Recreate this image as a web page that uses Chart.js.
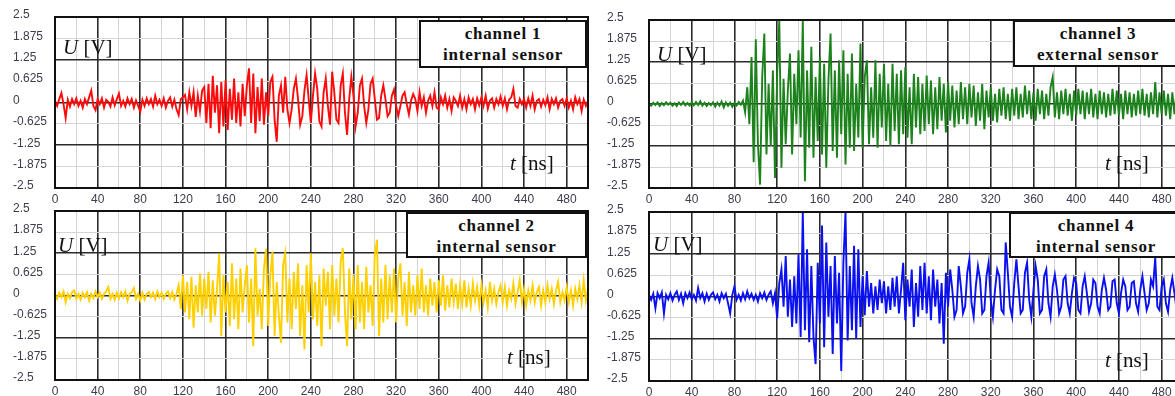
<!DOCTYPE html>
<html>
<head>
<meta charset="utf-8">
<title>Sensor channels</title>
<script src="https://cdn.jsdelivr.net/npm/chart.js@4/dist/chart.umd.min.js"></script>
<style>
  html, body { margin: 0; padding: 0; background: #fff; width: 1175px; height: 396px; overflow: hidden; }
  canvas { position: absolute; }
  .unit {
    position: absolute; white-space: nowrap; color: #111;
    font-family: "Liberation Serif", "Times New Roman", serif;
    font-size: 21px; line-height: 22px; z-index: 2;
  }
  .tag {
    position: absolute; box-sizing: border-box; z-index: 2;
    border: 2px solid #111; background: #fff; color: #111;
    font: bold 17px "Liberation Serif", "Times New Roman", serif;
    letter-spacing: 0.8px; line-height: 21px; padding-top: 1px; text-align: center;
  }
</style>
</head>
<body>

<canvas id="ch1" width="592" height="206" style="left:0;top:0"></canvas>
<canvas id="ch3" width="593" height="206" style="left:594px;top:0"></canvas>
<canvas id="ch2" width="592" height="204" style="left:0;top:194px"></canvas>
<canvas id="ch4" width="593" height="204" style="left:594px;top:195px"></canvas>

<div class="unit" style="left:63px;top:36px"><i>U</i> [V]</div>
<div class="unit" style="left:58px;top:234px"><i>U</i> [V]</div>
<div class="unit" style="left:657px;top:43px"><i>U</i> [V]</div>
<div class="unit" style="left:653px;top:233px"><i>U</i> [V]</div>

<div class="unit" style="left:510px;top:152px"><i>t</i> [ns]</div>
<div class="unit" style="left:507px;top:346px"><i>t</i> [ns]</div>
<div class="unit" style="left:1105px;top:152px"><i>t</i> [ns]</div>
<div class="unit" style="left:1105px;top:349px"><i>t</i> [ns]</div>

<div class="tag" style="left:419px;top:20px;width:168px;height:48px">channel 1<br>internal sensor</div>
<div class="tag" style="left:406px;top:212px;width:181px;height:46px">channel 2<br>internal sensor</div>
<div class="tag" style="left:1013px;top:20px;width:170px;height:47px">channel 3<br>external sensor</div>
<div class="tag" style="left:1009px;top:212px;width:174px;height:46px">channel 4<br>internal sensor</div>

<script>
// one sample every 2 ns, 0..500 ns
const SAMPLE_NS = 2;

const timeTickLabels = [0, 40, 80, 120, 160, 200, 240, 280, 320, 360, 400, 440, 480];
const voltTicks = [2.5, 1.875, 1.25, 0.625, 0, -0.625, -1.25, -1.875, -2.5];
const voltTickLabels = ['2.5', '1.875', '1.25', '0.625', '0', '-0.625', '-1.25', '-1.875', '-2.5'];

// channel 1, internal sensor [V]
const ch1Volts = [
  0.05,-0.1,0.1,0.28,-0.05,-0.45,0.08,-0.12,0.1,-0.05,
  0.12,-0.1,0.05,-0.15,0.1,-0.05,0.15,0.35,-0.1,-0.22,
  0.1,-0.05,0.12,-0.15,0.08,0.02,-0.12,0.15,-0.08,0.1,
  0.26,-0.1,0.05,-0.12,0.12,-0.05,0.1,-0.15,0.06,-0.1,
  -0.27,0.08,-0.1,0.12,-0.05,0.1,-0.12,0.2,-0.05,0.08,
  -0.1,0.12,-0.15,0.05,0.15,-0.12,0.08,-0.2,-0.37,0.1,
  0.15,0.22,-0.2,0.3,-0.1,0.3,-0.42,0.2,-0.25,0.35,
  0.45,-0.6,0.55,-0.75,0.78,-0.3,0.5,-0.9,0.6,-0.7,
  0.65,-0.8,0.4,-0.5,0.7,-0.6,0.3,-0.7,0.55,-0.4,
  0.5,1.0,-0.6,0.85,-0.9,0.45,-0.55,0.7,-0.65,0.3,
  -0.4,0.6,0.75,-0.5,-1.15,0.2,0.5,-0.3,0.75,-0.2,
  -0.6,-0.2,0.4,0.7,0.1,-0.65,-0.4,0.35,0.8,0.1,
  -0.6,0.2,0.85,0.4,-0.55,-0.7,0.3,0.7,-0.1,-0.65,
  0.9,0.3,-0.5,-0.6,0.5,0.85,-0.3,-0.95,0.1,0.75,
  0.2,-0.7,-0.3,0.5,0.7,-0.1,-0.6,-0.2,0.55,0.7,
  0.1,-0.5,-0.45,0.2,0.5,0.1,-0.4,-0.3,0.2,0.38,
  -0.1,-0.4,-0.1,0.2,0.3,-0.05,-0.35,0.05,0.25,0.1,
  -0.25,0.3,-0.1,0.15,-0.3,0.05,0.2,-0.1,0.3,-0.15,
  -0.2,0.15,-0.05,0.2,-0.15,0.1,-0.25,0.15,0.05,-0.1,
  0.2,-0.15,0.1,-0.2,0.15,-0.05,0.1,-0.2,0.12,-0.08,
  0.15,-0.1,0.2,-0.18,0.05,0.12,-0.15,0.1,-0.05,0.18,
  -0.1,0.12,-0.2,0.08,0.15,0.4,-0.1,-0.15,0.1,-0.05,
  0.1,-0.15,0.12,-0.1,0.2,-0.2,0.05,0.1,-0.12,0.08,
  -0.08,0.15,-0.2,0.1,-0.05,0.12,-0.15,0.05,0.1,-0.1,
  0.12,-0.15,0.05,-0.2,0.15,-0.05,0.1,-0.25,0.08,-0.1,
  0.05
];

// channel 2, internal sensor [V]
const ch2Volts = [
  0.05,-0.1,0.08,-0.05,0.12,-0.2,0.05,-0.08,0.1,0.15,
  -0.1,0.05,-0.12,0.08,-0.05,0.1,-0.15,0.05,-0.08,0.12,
  -0.05,0.08,-0.1,0.05,0.12,0.25,-0.1,0.05,-0.12,0.08,
  -0.08,0.1,-0.05,0.12,-0.15,0.05,0.1,0.22,-0.1,0.05,
  -0.15,0.08,-0.12,0.05,0.1,-0.05,0.08,-0.1,0.12,-0.05,
  0.08,-0.1,0.05,0.12,-0.08,0.1,-0.12,0.05,0.3,-0.4,
  0.6,-0.5,0.4,-0.7,0.55,-0.95,0.3,-0.5,0.65,-0.6,
  0.5,-0.4,0.7,-0.8,0.45,-0.6,0.2,1.24,-1.2,0.6,
  -0.5,0.4,-0.9,0.95,-0.7,0.5,-1.0,0.8,-0.5,0.3,
  0.9,-0.8,0.5,-1.5,1.4,-0.6,0.2,-1.0,0.8,1.38,
  -0.9,0.6,1.3,-1.2,0.4,-0.6,-1.4,0.9,1.25,-0.8,
  0.5,-1.0,0.7,-0.4,0.95,-1.2,0.3,-1.6,0.9,-0.5,
  1.25,-0.7,0.4,-0.9,0.6,-1.5,0.8,-0.3,0.7,-1.0,
  0.9,-0.6,0.5,-0.8,1.0,1.4,-0.5,-1.5,0.8,-0.7,
  0.6,-1.0,0.9,-0.8,0.4,-1.0,0.85,-0.5,0.3,-0.9,
  1.2,1.65,-1.2,0.5,-0.8,0.9,-0.7,0.6,-0.5,0.8,
  -0.8,0.5,0.95,-0.6,0.4,-0.9,0.7,-0.5,0.3,-0.6,
  0.6,-0.4,0.8,-0.5,0.3,-0.6,0.5,-0.3,0.4,-0.5,
  0.45,-0.3,0.6,-0.45,0.3,-0.35,0.5,-0.2,0.35,-0.4,
  0.3,-0.25,0.45,-0.35,0.2,-0.3,0.35,-0.15,0.25,-0.3,
  0.3,-0.2,0.15,-0.35,0.4,-0.15,0.2,-0.25,0.1,0.3,
  -0.2,0.25,-0.3,0.15,-0.1,0.35,-0.25,0.1,0.45,-0.2,
  0.2,-0.3,0.15,-0.15,0.3,-0.2,0.1,0.25,-0.3,0.15,
  -0.2,0.3,-0.1,0.2,-0.25,0.15,0.4,-0.2,0.1,-0.15,
  0.25,-0.2,0.15,-0.3,0.2,-0.1,0.3,-0.2,0.45,-0.15,
  0.2
];

// channel 3, external sensor [V]
const ch3Volts = [
  0.02,-0.05,0.04,-0.03,0.05,-0.06,0.03,-0.04,0.05,-0.02,
  0.04,-0.05,0.02,-0.06,0.05,-0.03,0.06,-0.04,0.03,-0.05,
  0.05,-0.04,0.06,-0.03,0.08,-0.05,0.04,-0.06,0.03,-0.04,
  0.05,-0.08,0.04,-0.05,0.07,-0.1,0.05,-0.06,0.04,-0.08,
  0.03,-0.05,0.06,-0.02,0.1,-0.25,0.5,-0.6,1.4,-1.73,
  1.93,-1.2,-2.4,0.8,2.1,-1.5,0.6,-1.25,1.0,-2.2,
  0.9,2.5,-1.9,0.75,-1.2,0.4,1.5,-1.5,0.9,-0.6,
  1.6,-1.0,2.5,-2.3,1.0,-1.3,1.7,-1.6,0.8,-1.1,
  1.4,-1.5,1.2,-1.9,0.7,2.1,-1.4,1.0,-1.6,1.3,
  -0.9,1.6,-1.8,0.9,-1.3,1.5,-1.4,0.6,-1.0,1.8,
  -1.3,0.8,1.3,-1.2,0.5,-1.0,1.3,-1.3,0.9,-0.7,
  1.2,-1.1,0.6,-1.25,1.2,-0.8,0.9,-1.2,1.0,-0.9,
  1.1,-1.0,0.5,-1.2,0.9,-0.7,0.8,-0.9,0.6,-0.8,
  0.85,-0.6,0.7,-0.9,0.5,-0.75,0.8,-0.5,0.6,-0.85,
  0.65,-0.5,0.55,-0.7,0.4,-0.6,0.65,-0.45,0.5,-0.6,
  0.6,-0.4,0.55,-0.65,0.35,-0.5,0.6,-0.75,0.4,-0.4,
  0.5,-0.5,0.3,-0.55,0.45,-0.35,0.5,-0.45,0.3,-0.5,
  0.45,-0.35,0.5,-0.45,0.3,-0.4,0.55,-0.3,0.4,-0.45,
  0.35,-0.5,0.45,-0.3,0.4,-0.45,0.3,-0.35,0.5,0.8,
  -0.4,0.35,-0.45,0.4,-0.3,0.45,-0.35,0.3,-0.5,0.4,
  -0.35,0.45,-0.3,0.4,-0.45,0.35,-0.3,0.45,-0.4,0.3,
  -0.45,0.4,-0.3,0.35,-0.4,0.3,-0.35,0.45,-0.3,0.4,
  -0.35,0.3,-0.45,0.4,-0.3,0.35,-0.4,0.3,-0.35,0.4,
  -0.3,0.45,-0.35,0.3,-0.4,0.35,-0.3,0.65,-0.4,0.35,
  -0.3,0.4,-0.35,0.3,-0.45,0.35,-0.3,0.4,-0.35,0.3,
  -0.2
];

// channel 4, internal sensor [V]
const ch4Volts = [
  0.05,-0.1,0.08,-0.35,0.1,-0.05,0.12,-0.5,0.05,-0.08,
  0.1,-0.12,0.05,0.15,-0.1,0.08,-0.2,0.1,-0.05,0.12,
  -0.08,0.05,-0.12,0.25,-0.05,0.1,-0.15,0.08,-0.1,0.05,
  0.12,-0.08,0.05,-0.15,0.1,-0.05,0.08,-0.2,-0.5,0.05,
  0.3,-0.1,0.05,-0.12,0.1,-0.08,0.15,-0.05,0.08,-0.1,
  0.05,-0.15,0.1,-0.05,0.12,-0.1,0.05,0.15,-0.2,0.1,
  -0.65,0.4,0.8,-0.3,1.2,-0.6,0.5,-0.9,0.6,-0.8,
  1.25,-1.2,2.5,-1.0,1.4,-1.35,0.9,-1.2,-2.0,1.0,
  -0.8,2.1,-1.5,1.6,-0.6,0.9,-1.7,1.2,-0.8,0.7,
  -2.2,1.0,2.5,-1.3,0.9,-1.0,1.5,-1.25,1.4,-0.9,
  0.6,-0.55,0.75,-0.3,0.4,-0.5,0.3,-0.4,0.5,-0.2,
  0.45,-0.5,0.3,-0.4,0.55,-0.3,0.6,-0.5,0.2,1.0,
  -0.7,0.5,-0.3,0.8,-0.9,0.4,-0.6,0.9,-0.4,1.0,
  -0.5,0.6,-0.7,0.8,-0.3,0.5,-0.8,0.4,-1.4,0.7,
  -0.3,0.8,0.2,-0.6,-0.4,0.9,0.3,-0.5,-0.3,0.7,
  1.1,-0.2,-0.6,0.3,0.9,0.5,-0.5,-0.4,0.6,1.0,
  -0.1,-0.6,0.2,0.8,0.6,-0.4,-0.5,1.6,0.7,-0.3,
  -0.6,0.4,1.1,0.3,-0.5,-0.4,0.7,1.0,-0.1,-0.6,
  0.2,0.9,0.5,-0.5,-0.4,0.6,0.8,-0.2,-0.6,0.3,
  0.65,0.2,-0.5,-0.3,0.5,0.6,-0.2,-0.5,0.1,0.55,
  0.4,-0.4,-0.5,0.3,0.6,0.1,-0.45,-0.2,0.5,0.4,
  -0.3,-0.5,0.2,0.55,0.2,-0.4,-0.3,0.45,0.5,-0.2,
  -0.5,0.1,0.5,0.3,-0.4,-0.3,0.4,0.45,-0.2,-0.45,
  0.2,0.6,0.1,-0.4,-0.2,0.5,0.3,1.15,-0.3,-0.4,
  0.3,0.5,-0.2,-0.45,0.2,0.55,0.1,-0.4,-0.1,0.45,
  0.2
];

const T_MAX = 500;
const MAJOR_GRID = '#2b2b2b';
const MINOR_GRID = '#d4d4d4';
const TICK_COLOR = '#3d3d4b';
const tickFont = { family: '"Liberation Sans", Arial, sans-serif', size: 12 };

// closes the plot box on all four sides
const frame = {
  id: 'frame',
  afterDraw(chart) {
    const { ctx, chartArea: a } = chart;
    ctx.save();
    ctx.strokeStyle = '#111';
    ctx.lineWidth = 2;
    ctx.strokeRect(a.left, a.top, a.right - a.left, a.bottom - a.top);
    ctx.restore();
  }
};

function scope(id, volts, color, padTop) {
  const points = volts.map((v, i) => ({ x: i * SAMPLE_NS, y: v }));
  const isMajorT = v => timeTickLabels.includes(v);
  const isMajorU = v => Math.abs(v / 1.25 - Math.round(v / 1.25)) < 1e-6;

  return new Chart(document.getElementById(id), {
    type: 'line',
    data: {
      datasets: [{
        data: points,
        borderColor: color,
        borderWidth: 1.9,
        pointRadius: 0,
        tension: 0,
        fill: false
      }]
    },
    options: {
      responsive: false,
      animation: false,
      devicePixelRatio: 1,
      layout: { padding: { left: 13, top: padTop, right: 3, bottom: 0 } },
      plugins: { legend: { display: false }, tooltip: { enabled: false } },
      scales: {
        x: {
          type: 'linear',
          min: 0,
          max: T_MAX,
          afterFit: s => { s.height = 18; },
          afterBuildTicks: s => {
            const t = [];
            for (let v = 0; v <= T_MAX; v += 20) t.push({ value: v });
            s.ticks = t;
          },
          ticks: {
            autoSkip: false,
            maxRotation: 0,
            padding: 4,
            color: TICK_COLOR,
            font: tickFont,
            callback: v => (isMajorT(v) ? String(v) : '')
          },
          grid: {
            drawTicks: false,
            color: c => (isMajorT(c.tick.value) ? MAJOR_GRID : MINOR_GRID),
            lineWidth: c => (isMajorT(c.tick.value) ? 1.6 : 1)
          },
          border: { display: false }
        },
        y: {
          min: -2.5,
          max: 2.5,
          afterFit: s => { s.width = 42; },
          afterBuildTicks: s => { s.ticks = voltTicks.map(v => ({ value: v })); },
          ticks: {
            crossAlign: 'far',
            padding: 0,
            labelOffset: -2,
            color: TICK_COLOR,
            font: tickFont,
            callback: v => voltTickLabels[voltTicks.indexOf(v)]
          },
          grid: {
            drawTicks: false,
            color: c => (isMajorU(c.tick.value) ? MAJOR_GRID : MINOR_GRID),
            lineWidth: c => (isMajorU(c.tick.value) ? 1.6 : 1)
          },
          border: { display: false }
        }
      }
    },
    plugins: [frame]
  });
}

scope('ch1', ch1Volts, '#ff0a0a', 17);
scope('ch3', ch3Volts, '#1c821c', 20);
scope('ch2', ch2Volts, '#ffd000', 17);
scope('ch4', ch4Volts, '#0a10f0', 17);
</script>
</body>
</html>
